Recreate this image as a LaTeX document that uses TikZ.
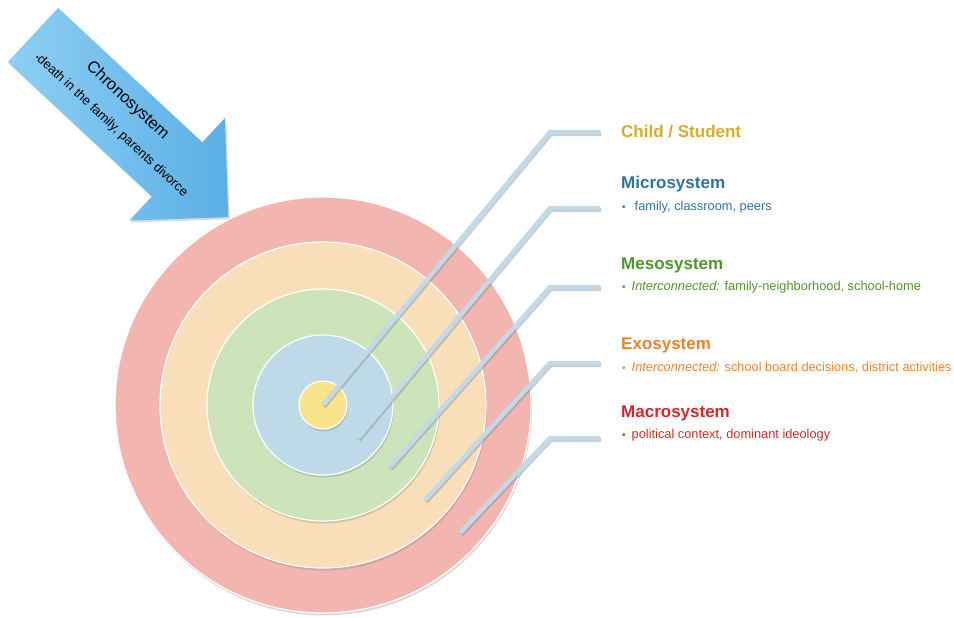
\documentclass[tikz,border=0pt]{standalone}
\usepackage{fontspec}
\setmainfont{Liberation Sans}
\usetikzlibrary{shadows,positioning}

\definecolor{ringred}{RGB}{242,181,176}
\definecolor{ringorange}{RGB}{249,223,185}
\definecolor{ringgreen}{RGB}{205,228,186}
\definecolor{ringblue}{RGB}{190,218,232}
\definecolor{ringyellow}{RGB}{249,228,140}
\definecolor{leaderblue}{RGB}{192,218,234}
\definecolor{childgold}{RGB}{214,172,44}
\definecolor{microblue}{RGB}{45,115,165}
\definecolor{mesogreen}{RGB}{80,150,40}
\definecolor{exoorange}{RGB}{235,130,45}
\definecolor{macrored}{RGB}{215,40,40}
\definecolor{chronolight}{RGB}{142,207,243}
\definecolor{chronodark}{RGB}{90,175,230}

\newcommand{\itembullet}{{\fontsize{10}{10}\selectfont\textbullet}\hspace{6pt}}

\begin{document}
\begin{tikzpicture}[x=1pt,y=-1pt]
        \tikzstyle{ring}=[circle,draw=white,line width=1.2pt,inner sep=0pt,
            drop shadow={opacity=0.3,shadow xshift=1pt,shadow yshift=-2.5pt}]
        \tikzstyle{leader}=[draw=leaderblue,line width=4.5pt,
            preaction={draw=black!50,opacity=0.4,line width=4.5pt,
                transform canvas={xshift=1pt,yshift=-1.8pt}}]
        \tikzstyle{title}=[anchor=base west,inner sep=0pt,
            font=\fontsize{17}{20}\selectfont\bfseries]
        \tikzstyle{item}=[anchor=base west,inner sep=0pt,
            font=\fontsize{12.8}{15}\selectfont]
        \tikzstyle{chrono arrow}=[left color=chronolight,right color=chronodark,
            drop shadow={opacity=0.3,shadow xshift=1.5pt,shadow yshift=-2pt}]

        \useasboundingbox (0,0) rectangle (954,618);

        % Draw the rings, largest first
        \foreach \name / \r / \col in {macro/208/ringred,exo/163/ringorange,
                meso/116/ringgreen,micro/70/ringblue,child/24/ringyellow}
            \node[ring,fill=\col,minimum size=2*\r] (\name) at (323,405) {};

        % Draw the leader lines from the rings to the labels
        \foreach \i / \sx / \sy / \ky in {1/323/405/132,2/358/438/208,
                3/390/467/287,4/425/500/363,5/460/533/438}
        {
            \coordinate (s-\i) at (\sx,\sy);
            \coordinate (k-\i) at (550,\ky);
            \coordinate (e-\i) at (600,\ky);
            \draw[leader] (s-\i) -- (k-\i) -- (e-\i);
        }

        % Label the rings
        \node[title,text=childgold] (tChild) at (621,137) {Child / Student};
        \node[title,text=microblue] (tMicro) at (621,188) {Microsystem};
        \node[item,text=microblue] (iMicro) at (622,210) {\itembullet\hspace{3pt}family, classroom, peers};
        \node[title,text=mesogreen] (tMeso) at (621,269) {Mesosystem};
        \node[item,text=mesogreen] (iMeso) at (622,290) {\itembullet\textit{Interconnected:} family-neighborhood, school-home};
        \node[title,text=exoorange] (tExo) at (621,349) {Exosystem};
        \node[item,text=exoorange] (iExo) at (622,371) {\itembullet\textit{Interconnected:} school board decisions, district activities};
        \node[title,text=macrored] (tMacro) at (621,417) {Macrosystem};
        \node[item,text=macrored] (iMacro) at (622,438) {\itembullet political context, dominant ideology};

        % Draw the chronosystem arrow
        \begin{scope}[shift={(33,35)},rotate=-43]
            \shade[chrono arrow] (0,-37) -- (197,-37) -- (197,-70) -- (267,0)
                -- (197,70) -- (197,37) -- (0,37) -- cycle;
            \node[anchor=base,inner sep=0pt,rotate=-43,
                font=\fontsize{16.5}{18}\selectfont] (chrono) at (114,-12) {Chronosystem};
            \node[anchor=base west,inner sep=0pt,rotate=-43,
                font=\fontsize{13}{15}\selectfont] (chronoItem) at (17,16)
                {{\fontsize{8}{8}\selectfont\textbullet}death in the family, parents divorce};
        \end{scope}
\end{tikzpicture}
\end{document}
